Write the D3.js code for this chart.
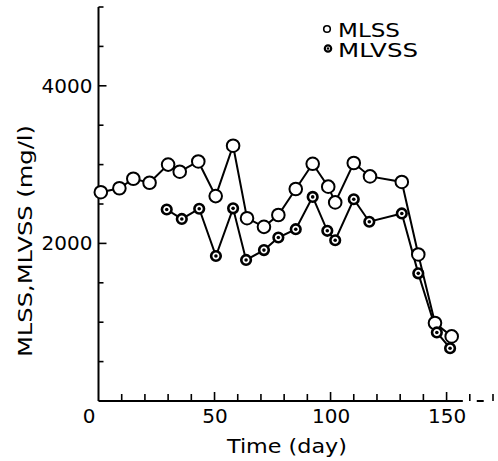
<!DOCTYPE html>
<html>
<head>
<meta charset="utf-8">
<script src="https://cdn.jsdelivr.net/npm/d3@7"></script>
<style>
  body { margin: 0; background: #fff; }
  svg { display: block; font-family: "DejaVu Sans", sans-serif; }
</style>
</head>
<body>
<div id="chart"></div>
<script>
// data (day, mg/l)
const mlssDay = [1, 9, 15, 22, 30, 35, 43, 50.5, 58, 64, 71.3, 77.5, 85, 92.3, 99, 102, 110, 117, 130.7, 137.8, 145, 152.2];
const mlssVal = [2650, 2700, 2820, 2770, 3000, 2910, 3040, 2600, 3240, 2320, 2210, 2360, 2690, 3010, 2720, 2520, 3020, 2850, 2780, 1860, 990, 820];
const mlvssDay = [29.4, 35.9, 43.4, 50.6, 58, 63.6, 71.3, 77.5, 85, 92.3, 98.6, 102, 110, 116.7, 130.7, 137.8, 145.8, 151.5];
const mlvssVal = [2430, 2310, 2440, 1840, 2445, 1790, 1915, 2075, 2180, 2590, 2160, 2040, 2560, 2275, 2380, 1620, 870, 670];
const xLabels = [50, 100, 150];
const yLabels = [2000, 4000];

const W = 498, H = 461;
const svg = d3.select('#chart').append('svg')
    .attr('width', W)
    .attr('height', H);

const x = d3.scaleLinear().domain([0, 170]).range([98.5, 493]);
const y = d3.scaleLinear().domain([0, 5000]).range([401, 7]);

// axes: labels from d3.axis, inward ticks drawn as short paths
const yTicks = d3.range(500, 5001, 500);
const xTicks = d3.range(10, 171, 10);

const gy = svg.append('g').attr('transform', `translate(${x(0)},0)`);
gy.call(d3.axisLeft(y).tickValues(yLabels).tickSize(0).tickPadding(6).tickFormat(d3.format('d')));
gy.selectAll('.domain').remove();
gy.append('line')
    .attr('y1', y(0)).attr('y2', y(5000))
    .attr('stroke', '#000').attr('stroke-width', 2);

const gx = svg.append('g').attr('transform', `translate(0,${y(0)})`);
gx.call(d3.axisBottom(x).tickValues(xLabels).tickSize(0).tickPadding(8).tickFormat(d3.format('d')));
gx.selectAll('.domain').remove();
gx.append('line')
    .attr('x1', x(0)).attr('x2', x(157))
    .attr('stroke', '#000').attr('stroke-width', 2);
gx.append('line')
    .attr('x1', x(163)).attr('x2', x(166))
    .attr('stroke', '#000').attr('stroke-width', 2);

// tick marks
svg.append('g')
    .selectAll('path')
    .data(yTicks)
    .join('path')
    .attr('d', d => `M${x(0)},${y(d)}h${yLabels.includes(d) ? 8 : 5}`)
    .attr('fill', 'none')
    .attr('stroke', '#000')
    .attr('stroke-width', 1.6);
svg.append('g')
    .selectAll('path')
    .data(xTicks)
    .join('path')
    .attr('d', d => `M${x(d)},${y(0)}v${xLabels.includes(d) ? -9 : -7}`)
    .attr('fill', 'none')
    .attr('stroke', '#000')
    .attr('stroke-width', 1.6);

svg.selectAll('.tick text')
    .attr('fill', '#000')
    .style('font-size', '20px')
    .style('font-family', '"DejaVu Sans", sans-serif');

// shared origin label
svg.append('text')
    .attr('x', 89).attr('y', 423)
    .attr('text-anchor', 'middle')
    .style('font-size', '20px')
    .text('0');

// axis titles
svg.append('text')
    .attr('x', 287).attr('y', 453)
    .attr('text-anchor', 'middle')
    .attr('textLength', 120)
    .attr('lengthAdjust', 'spacingAndGlyphs')
    .style('font-size', '19px')
    .text('Time  (day)');

svg.append('text')
    .attr('transform', 'translate(32,241) rotate(-90)')
    .attr('text-anchor', 'middle')
    .attr('textLength', 232)
    .attr('lengthAdjust', 'spacingAndGlyphs')
    .style('font-size', '20px')
    .text('MLSS,MLVSS  (mg/l)');

// series
const line = d3.line().x(d => x(d[0])).y(d => y(d[1]));
const mlss = d3.zip(mlssDay, mlssVal);
const mlvss = d3.zip(mlvssDay, mlvssVal);

[mlss, mlvss].forEach((pts) => {
    svg.append('path')
        .attr('d', line(pts))
        .attr('fill', 'none')
        .attr('stroke', '#000')
        .attr('stroke-width', 2);
});

svg.append('g').selectAll('circle')
    .data(mlss)
    .enter()
    .append('circle')
    .attr('cx', d => x(d[0]))
    .attr('cy', d => y(d[1]))
    .attr('r', 6.3)
    .attr('fill', '#fff')
    .attr('stroke', '#000')
    .attr('stroke-width', 2);

const vg = svg.append('g').selectAll('g')
    .data(mlvss)
    .enter()
    .append('g')
    .attr('transform', d => `translate(${x(d[0])},${y(d[1])})`);
vg.append('circle')
    .attr('r', 4.8)
    .attr('fill', '#fff')
    .attr('stroke', '#000')
    .attr('stroke-width', 2.6);
vg.append('circle')
    .attr('r', 1.8)
    .attr('fill', '#000');

// legend
const lg = svg.append('g');
lg.append('circle')
    .attr('cx', 327).attr('cy', 29).attr('r', 3.3)
    .attr('fill', '#fff').attr('stroke', '#000').attr('stroke-width', 1.6);
lg.append('circle')
    .attr('cx', 328).attr('cy', 48.5).attr('r', 3.2)
    .attr('fill', '#fff').attr('stroke', '#000').attr('stroke-width', 2.2);
lg.append('circle')
    .attr('cx', 328).attr('cy', 48.5).attr('r', 1.2)
    .attr('fill', '#000');
lg.append('text')
    .attr('x', 338).attr('y', 37)
    .attr('textLength', 62)
    .attr('lengthAdjust', 'spacingAndGlyphs')
    .style('font-size', '19px')
    .text('MLSS');
lg.append('text')
    .attr('x', 338).attr('y', 57)
    .attr('textLength', 80)
    .attr('lengthAdjust', 'spacingAndGlyphs')
    .style('font-size', '19px')
    .text('MLVSS');
</script>
</body>
</html>
